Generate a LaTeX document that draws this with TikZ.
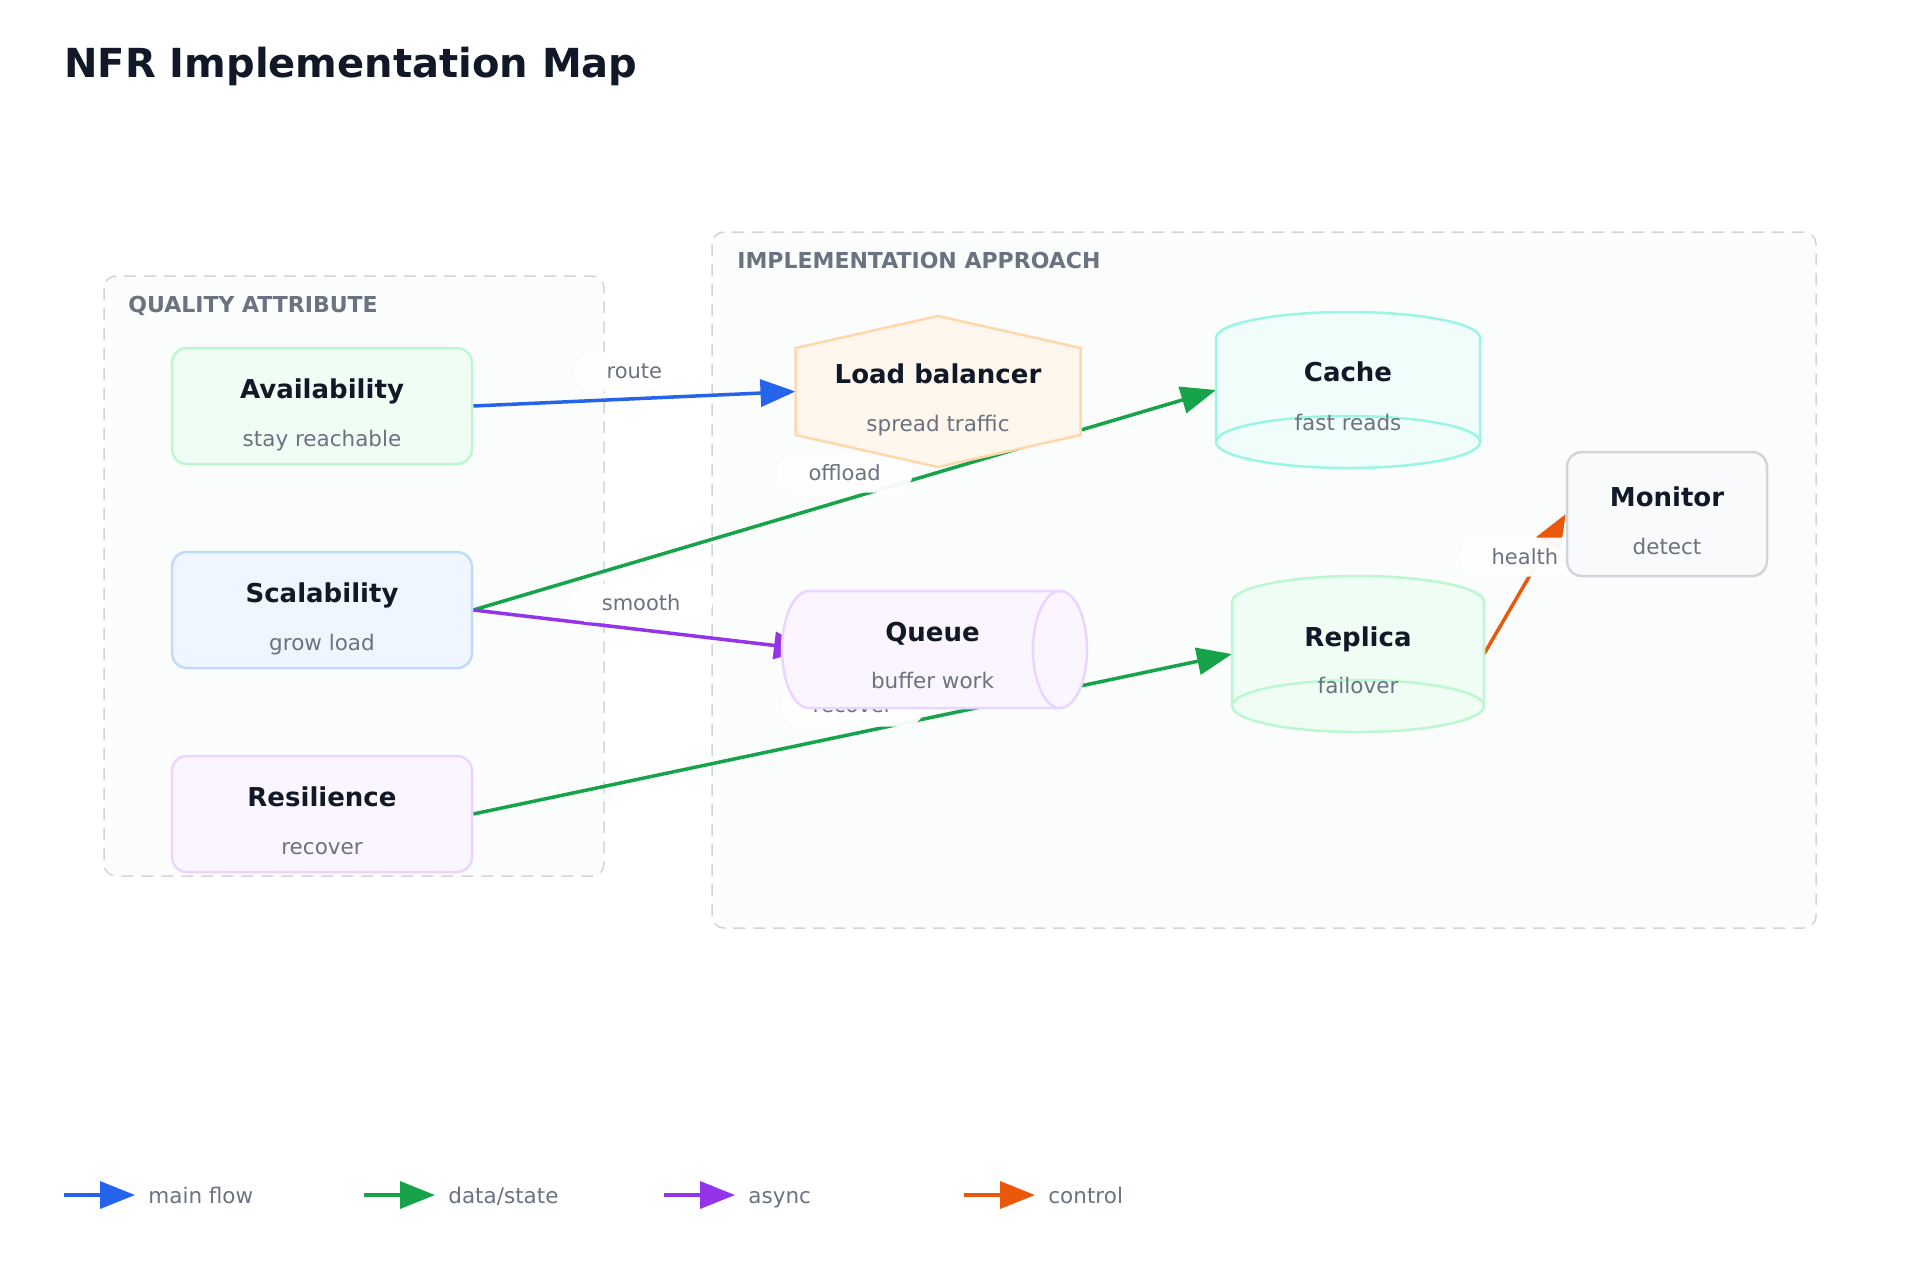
\documentclass[tikz,border=0pt]{standalone}
\usepackage{fontspec}
\setmainfont{DejaVu Sans}
\usetikzlibrary{arrows.meta,calc}
\definecolor{ink}{HTML}{111827}
\definecolor{muted}{HTML}{6B7280}
\definecolor{grpline}{HTML}{D1D5DB}
\definecolor{grpfill}{HTML}{FBFCFC}
\definecolor{cblue}{HTML}{2563EB}
\definecolor{cgreen}{HTML}{16A34A}
\definecolor{cpurple}{HTML}{9333EA}
\definecolor{corange}{HTML}{EA580C}
\definecolor{gfill}{HTML}{F0FDF4}
\definecolor{gline}{HTML}{BBF7D0}
\definecolor{bfill}{HTML}{EFF6FF}
\definecolor{bline}{HTML}{BFDBFE}
\definecolor{pfill}{HTML}{FAF5FF}
\definecolor{pline}{HTML}{E9D5FF}
\definecolor{ofill}{HTML}{FFF7ED}
\definecolor{oline}{HTML}{FED7AA}
\definecolor{tfill}{HTML}{F0FDFA}
\definecolor{tline}{HTML}{99F6E4}
\definecolor{mfill}{HTML}{F9FAFB}
\definecolor{mline}{HTML}{D1D5DB}
\pgfdeclarelayer{grp}
\pgfdeclarelayer{edg}
\pgfsetlayers{grp,edg,main}
\begin{document}
\begin{tikzpicture}[x=0.5pt,y=-0.5pt,
  grpbox/.style={draw=grpline, fill=grpfill, line width=0.75pt, dash pattern=on 6pt off 4pt, rounded corners=6pt},
  grplabel/.style={font=\fontsize{11}{13}\selectfont\bfseries, text=muted, anchor=base west, inner sep=0},
  qbox/.style={rectangle, rounded corners=7.5pt, minimum width=150pt, minimum height=58pt, line width=1.25pt, inner sep=0},
  ghost/.style={inner sep=0, outer sep=0},
  shp/.style={line width=1.25pt},
  ttl/.style={font=\fontsize{13}{15}\selectfont\bfseries, text=ink, anchor=base, inner sep=0},
  sub/.style={font=\fontsize{10.75}{13}\selectfont, text=muted, anchor=base, inner sep=0},
  flow/.style={line width=1.75pt, -{Triangle[length=17.5pt,width=13.5pt]}},
  elabel/.style={font=\fontsize{10.5}{12}\selectfont, text=muted, fill=white, fill opacity=0.95, text opacity=1, rounded corners=9.75pt, minimum height=19.5pt, inner xsep=16pt, inner ysep=0, yshift=13.5pt},
  legtext/.style={font=\fontsize{10.75}{13}\selectfont, text=muted, anchor=base west, inner sep=0}
]
\path[use as bounding box] (0,0) rectangle (1920,1280);

% groups
\begin{pgfonlayer}{grp}
\fill[white] (0,0) rectangle (1920,1280);
\path[grpbox] (104,276) rectangle (604,876);
\path[grpbox] (712,232) rectangle (1816,928);
\end{pgfonlayer}

% title
\node[font=\fontsize{20}{24}\selectfont\bfseries, text=ink, anchor=base west, inner sep=0] (title) at (64,77) {NFR Implementation Map};

\node[grplabel] (qalab) at (128,312) {QUALITY ATTRIBUTE};
\node[grplabel] (imlab) at (737,268) {IMPLEMENTATION APPROACH};

% quality attribute nodes
\node[qbox, draw=gline, fill=gfill] (av) at (322,406) {};
\node[ttl] (avt) at ($(av.center)+(0,-8)$) {Availability};
\node[sub] (avs) at ($(av.center)+(0,40)$) {stay reachable};

\node[qbox, draw=bline, fill=bfill] (sc) at (322,610) {};
\node[ttl] (sct) at ($(sc.center)+(0,-8)$) {Scalability};
\node[sub] (scs) at ($(sc.center)+(0,40)$) {grow load};

\node[qbox, draw=pline, fill=pfill] (rs) at (322,814) {};
\node[ttl] (rst) at ($(rs.center)+(0,-8)$) {Resilience};
\node[sub] (rss) at ($(rs.center)+(0,40)$) {recover};

% load balancer hexagon
\node[ghost, minimum width=142.5pt, minimum height=75.5pt] (lb) at (938,391.5) {};
\filldraw[shp, draw=oline, fill=ofill, shift={(lb.center)}] (-142.5,-43.5) -- (0,-75.5) -- (142.5,-43.5) -- (142.5,43.5) -- (0,75.5) -- (-142.5,43.5) -- cycle;
\node[ttl] (lbt) at ($(lb.center)+(0,-8)$) {Load balancer};
\node[sub] (lbs) at ($(lb.center)+(0,40)$) {spread traffic};

% cache cylinder
\node[ghost, minimum width=132pt, minimum height=78pt] (cache) at (1348,390) {};
\filldraw[shp, draw=tline, fill=tfill, shift={(cache.center)}] (-132,-52) -- (-132,52) arc[start angle=180,end angle=360,x radius=66pt,y radius=13pt] -- (132,-52) arc[start angle=0,end angle=180,x radius=66pt,y radius=13pt] -- cycle;
\draw[shp, draw=tline, shift={(cache.center)}] (-132,52) arc[start angle=180,end angle=0,x radius=66pt,y radius=13pt];
\node[ttl] (cat) at ($(cache.center)+(0,-9)$) {Cache};
\node[sub] (cas) at ($(cache.center)+(0,40)$) {fast reads};

% queue cylinder
\node[ghost, minimum width=152.5pt, minimum height=58.5pt] (queue) at (934.5,649.5) {};
\filldraw[shp, draw=pline, fill=pfill, shift={(queue.center)}] (-125.5,-58.5) -- (125.5,-58.5) arc[start angle=90,end angle=-90,x radius=13.5pt,y radius=29.25pt] -- (-125.5,58.5) arc[start angle=270,end angle=90,x radius=13.5pt,y radius=29.25pt] -- cycle;
\draw[shp, draw=pline, shift={(queue.center)}] (125.5,-58.5) arc[start angle=90,end angle=270,x radius=13.5pt,y radius=29.25pt];
\node[ttl] (qut) at ($(queue.center)+(-2,-8)$) {Queue};
\node[sub] (qus) at ($(queue.center)+(-2,39)$) {buffer work};

% replica cylinder
\node[ghost, minimum width=126pt, minimum height=78pt] (rep) at (1358,654) {};
\filldraw[shp, draw=gline, fill=gfill, shift={(rep.center)}] (-126,-52) -- (-126,52) arc[start angle=180,end angle=360,x radius=63pt,y radius=13pt] -- (126,-52) arc[start angle=0,end angle=180,x radius=63pt,y radius=13pt] -- cycle;
\draw[shp, draw=gline, shift={(rep.center)}] (-126,52) arc[start angle=180,end angle=0,x radius=63pt,y radius=13pt];
\node[ttl] (rept) at ($(rep.center)+(0,-8)$) {Replica};
\node[sub] (reps) at ($(rep.center)+(0,39)$) {failover};

% monitor
\node[qbox, draw=mline, fill=mfill, minimum width=100pt, minimum height=62pt] (mon) at (1667,514) {};
\node[ttl] (mont) at ($(mon.center)+(0,-8)$) {Monitor};
\node[sub] (mons) at ($(mon.center)+(0,40)$) {detect};

% edges
\coordinate (qin) at ($(queue.west)+(27,0)$);
\begin{pgfonlayer}{edg}
\draw[flow, cblue] (av.east) -- node[elabel] (l1) {route} (lb.west);
\draw[flow, cgreen] (sc.east) -- node[elabel] (l2) {offload} (cache.west);
\draw[flow, cpurple] (sc.east) -- node[elabel] (l3) {smooth} (qin);
\draw[flow, cgreen] (rs.east) -- node[elabel] (l4) {recover} (rep.west);
\draw[flow, corange] (rep.east) -- node[elabel] (l5) {health} (mon.west);
\end{pgfonlayer}

% legend
\coordinate (g1a) at (64,1195);  \coordinate (g1b) at (135,1195);
\coordinate (g2a) at (364,1195); \coordinate (g2b) at (435,1195);
\coordinate (g3a) at (664,1195); \coordinate (g3b) at (735,1195);
\coordinate (g4a) at (964,1195); \coordinate (g4b) at (1035,1195);
\draw[flow, cblue] (g1a) -- (g1b);
\draw[flow, cgreen] (g2a) -- (g2b);
\draw[flow, cpurple] (g3a) -- (g3b);
\draw[flow, corange] (g4a) -- (g4b);
\node[legtext] (t1) at (148,1203) {main flow};
\node[legtext] (t2) at (448,1203) {data/state};
\node[legtext] (t3) at (748,1203) {async};
\node[legtext] (t4) at (1048,1203) {control};
\end{tikzpicture}
\end{document}
